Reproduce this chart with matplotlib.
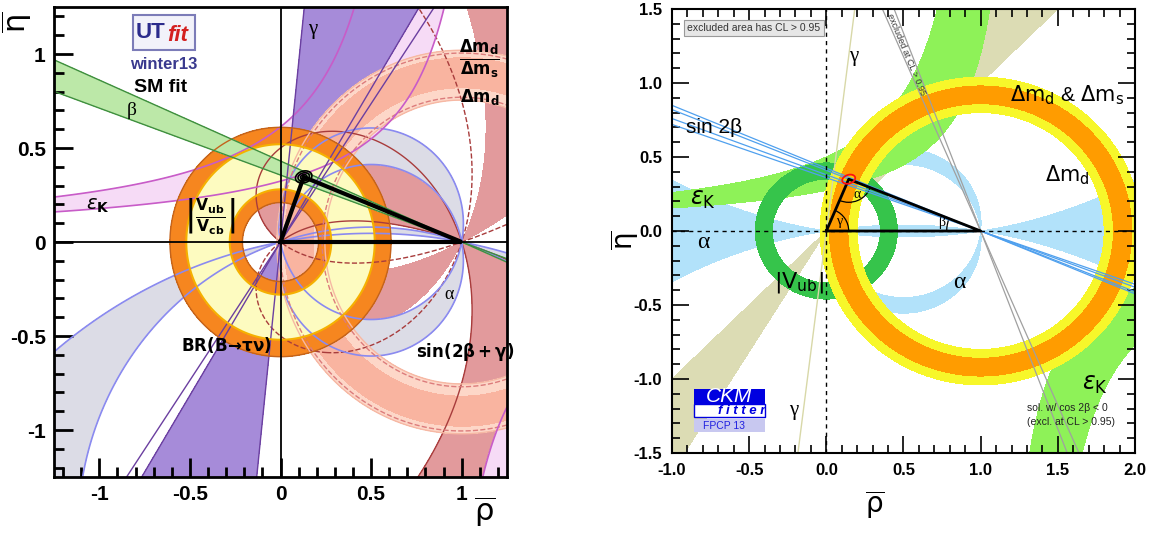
import numpy as np
import matplotlib
matplotlib.use("Agg")
import matplotlib.pyplot as plt
from matplotlib.patches import Rectangle, Arc
from matplotlib.ticker import MultipleLocator

plt.rcParams['font.family'] = ['Liberation Sans', 'DejaVu Sans']
plt.rcParams['mathtext.fontset'] = 'dejavusans'

# ---------------- UTfit (left panel) : constraint ranges ----------------
ut_lim = [-1.25, 1.25]
ut_taunu = [0.21, 0.61]        # BR(B->tau nu), ring around (0,0)
ut_vub = [0.28, 0.52]          # |Vub/Vcb|, ring around (0,0)
ut_dm = [0.755, 1.02]          # Delta m_d, ring around (1,0)
ut_dms = [0.82, 0.98]          # Delta m_d / Delta m_s
ut_dm_dash = [0.77, 1.005]
ut_beta = [19.6, 23.3]         # degrees
ut_gamma = [58.5, 84.0]
ut_gamma_95 = [55.8]
ut_alpha = [79.0, 101.0]
ut_alpha_b = [162.0, 169.5]
ut_s2bg_fill = [-0.8, 0.6]     # sin(2b+g) filled below / above
ut_s2bg_line = [-0.6, 0.6]
ut_epsk = [0.8, 0.49, 1.22, 0.395]   # c1, b2, c2, b1 of eta*(c-rho)=b family
ut_apex = [0.128, 0.346]
ut_apex_sig = [0.02, 0.0135]
ut_apex_lev = [0.07, 0.28, 0.67]
ut_ticks = [-1, -0.5, 0, 0.5, 1]
ut_ticklabels = ['-1', '-0.5', '0', '0.5', '1']

# ---------------- CKMfitter (right panel) ----------------
ck_xlim = [-1.0, 2.0]
ck_ylim = [-1.5, 1.5]
ck_vub = [0.35, 0.46]
ck_dm = [0.80, 1.04]
ck_dms = [0.86, 0.98]
ck_s2b = [19.8, 20.8, 22.3, 23.0]
ck_s2b_excl = [67.0, 69.5]
ck_gamma = [45.0, 58.5]
ck_gamma_95 = [83.0]
ck_alpha = [84.0, 96.0]
ck_alpha_b = [-9.2, 9.2]
ck_epsk = [1.08, 0.541, 1.297, 0.356]
ck_apex = [0.145, 0.35]
ck_apex_sig = [0.03, 0.02]
ck_xticks = [-1.0, -0.5, 0.0, 0.5, 1.0, 1.5, 2.0]
ck_yticks = [-1.5, -1.0, -0.5, 0.0, 0.5, 1.0, 1.5]


def fields(xr, yr, n=900):
    r, e = np.meshgrid(np.linspace(xr[0], xr[1], n), np.linspace(yr[0], yr[1], n))
    b = np.degrees(np.arctan2(e, 1 - r))
    g = np.degrees(np.arctan2(e, r))
    f = {'rb': np.hypot(r, e), 'rt': np.hypot(1 - r, e), 'b': b, 'g': g, 'a': 180 - b - g,
         's2bg': np.sin(np.radians(2 * b + g))}
    return r, e, f


def ang_band(theta, lim):
    # >=0 inside the band lim (degrees, modulo 180)
    mid = 0.5 * (lim[0] + lim[1])
    return np.cos(np.radians(2 * (theta - mid))) - np.cos(np.radians(lim[1] - lim[0]))


def epsk_field(r, e, p):
    c1, b2, c2, b1 = p
    u1 = e * (c1 - r)
    u2 = e * (c2 - r)
    return np.minimum(b2 - np.minimum(u1, u2), np.maximum(u1, u2) - b1)


def apex_field(c, s, tilt=0):
    r, e = np.meshgrid(np.linspace(c[0] - 0.1, c[0] + 0.1, 200), np.linspace(c[1] - 0.08, c[1] + 0.08, 200))
    t = np.radians(tilt)
    u = (r - c[0]) * np.cos(t) + (e - c[1]) * np.sin(t)
    v = -(r - c[0]) * np.sin(t) + (e - c[1]) * np.cos(t)
    return r, e, np.exp(-0.5 * ((u / s[0]) ** 2 + (v / s[1]) ** 2))


fig = plt.figure(figsize=(11.56, 5.35), dpi=100)

# ======================= left : UTfit =======================
ax = fig.add_axes([54 / 1156, 58 / 535, 453 / 1156, 470 / 535])
r, e, f = fields(ut_lim, ut_lim)
ek = epsk_field(r, e, ut_epsk)

ax.contourf(r, e, f['s2bg'], levels=[-2, ut_s2bg_fill[0], ut_s2bg_fill[1], 2],
            colors=['#e29a9c', 'none', '#e29a9c'])
ax.contourf(r, e, ang_band(f['a'], ut_alpha), levels=[0, 3], colors=['#dcdce6'])
ax.contourf(r, e, ang_band(f['a'], ut_alpha_b), levels=[0, 3], colors=['#dcdce6'])
ax.contourf(r, e, ek, levels=[0, 10], colors=['#f6dbf6'])
ax.contourf(r, e, ang_band(f['g'], ut_gamma), levels=[0, 3], colors=['#a68bd9'])
ax.contourf(r, e, f['rt'], levels=ut_dm, colors=['#fdd7c8'])
ax.contourf(r, e, f['rt'], levels=ut_dms, colors=['#f9b4a0'])
ax.contourf(r, e, f['rb'], levels=ut_taunu, colors=['#f6861f'])
ax.contourf(r, e, f['rb'], levels=ut_vub, colors=['#fdfbc0'])
ax.contourf(r, e, ang_band(f['b'], ut_beta), levels=[0, 3], colors=['#bce8a8'])

# contour lines on top
ax.contour(r, e, f['s2bg'], levels=ut_s2bg_line, colors='#a83c3c', linewidths=1)
ax.contour(r, e, ang_band(f['a'], ut_alpha), levels=[0], colors='#8a8af0', linewidths=1.2)
ax.contour(r, e, ang_band(f['a'], ut_alpha_b), levels=[0], colors='#8a8af0', linewidths=1.2)
ax.contour(r, e, f['rt'], levels=ut_dm, colors='#f6b8a4', linewidths=1)
ax.contour(r, e, f['rt'], levels=ut_dm_dash, colors='#dc7c7c', linewidths=1, linestyles='--')
ax.contour(r, e, ek, levels=[0], colors='#c85cc8', linewidths=1.2)
for gl in ut_gamma + ut_gamma_95:
    ax.axline((0, 0), slope=np.tan(np.radians(gl)), color='#6b3fa0', lw=1)
ax.contour(r, e, f['rb'], levels=ut_taunu, colors='#c3631c', linewidths=1)
ax.contour(r, e, f['rb'], levels=ut_vub, colors='#f5b000', linewidths=1.5)
for bl in ut_beta:
    ax.axline((1, 0), slope=-np.tan(np.radians(bl)), color='#3f8f3f', lw=1)

ax.axhline(0, color='k', lw=1.3)
ax.axvline(0, color='k', lw=1.3)
ax.plot([0, ut_apex[0], 1, 0], [0, ut_apex[1], 0, 0], color='k', lw=3, solid_joinstyle='miter')
ar, ae, az = apex_field(ut_apex, ut_apex_sig, 15)
ax.contour(ar, ae, az, levels=ut_apex_lev, colors='k', linewidths=1.2)

ax.set_xlim(ut_lim)
ax.set_ylim(ut_lim)
ax.set_xticks(ut_ticks)
ax.set_yticks(ut_ticks)
ax.set_xticklabels(ut_ticklabels, fontweight='bold', fontsize=15)
ax.set_yticklabels(ut_ticklabels, fontweight='bold', fontsize=15)
ax.xaxis.set_minor_locator(MultipleLocator(0.1))
ax.yaxis.set_minor_locator(MultipleLocator(0.1))
ax.tick_params(which='both', direction='in', width=2, top=False, right=False)
ax.tick_params(which='major', length=14, pad=6)
ax.tick_params(which='minor', length=7)
for sp in ax.spines.values():
    sp.set_linewidth(2)

# logo and labels
ax.add_patch(Rectangle((-0.815, 1.02), 0.345, 0.185, fc='#f2f2fa', ec='#7c7cb8', lw=1.5, zorder=5))
ax.text(-0.8, 1.115, 'UT', color='#2c2c8c', fontsize=16, fontweight='bold', va='center', zorder=6)
ax.text(-0.625, 1.1, 'fit', color='#d42020', fontsize=16, fontweight='bold', style='italic', va='center', zorder=6)
ax.text(-0.645, 0.945, 'winter13', color='#3a3a8e', fontsize=12, fontweight='bold', ha='center', va='center')
ax.text(-0.66, 0.82, 'SM fit', color='k', fontsize=14, fontweight='bold', ha='center', va='center')
ax.text(-0.82, 0.70, 'β', fontsize=14, family='Liberation Serif', ha='center', va='center')
ax.text(-1.01, 0.19, r'$\varepsilon_{\mathbf{K}}$', fontsize=14, ha='center', va='center')
ax.text(0.18, 1.13, 'γ', fontsize=15, family='Liberation Serif', ha='center', va='center')
ax.text(1.1, 0.97, r'$\mathbf{\frac{\Delta m_d}{\Delta m_s}}$', fontsize=17, ha='center', va='center')
ax.text(1.1, 0.77, r'$\mathbf{\Delta m_d}$', fontsize=12, ha='center', va='center')
ax.text(-0.39, 0.14, r'$\left|\frac{\mathbf{V_{ub}}}{\mathbf{V_{cb}}}\right|$', fontsize=16, ha='center', va='center')
ax.text(0.93, -0.28, 'α', fontsize=13, family='Liberation Serif', ha='center', va='center')
ax.text(-0.3, -0.55, r'$\mathbf{BR(B\!\rightarrow\!\tau\nu)}$', fontsize=12, ha='center', va='center')
ax.text(1.02, -0.585, r'$\mathbf{sin(2\beta+\gamma)}$', fontsize=12, ha='center', va='center')

fig.text(17 / 1156, 1 - 22 / 535, r'$\overline{\mathrm{\eta}}$', fontsize=22, rotation=90, ha='center', va='center')
fig.text(485 / 1156, 1 - 512 / 535, r'$\overline{\mathrm{\rho}}$', fontsize=22, ha='center', va='center')

# ======================= right : CKMfitter =======================
ax2 = fig.add_axes([672 / 1156, 82 / 535, 463 / 1156, 444 / 535])
r, e, f = fields(ck_xlim, ck_ylim, 1000)
ek = epsk_field(r, e, ck_epsk)

ax2.contourf(r, e, ang_band(f['g'], ck_gamma), levels=[0, 3], colors=['#dcdcb4'])
ax2.contourf(r, e, ang_band(f['a'], ck_alpha), levels=[0, 3], colors=['#b2e2fa'])
ax2.contourf(r, e, ang_band(f['a'], ck_alpha_b), levels=[0, 3], colors=['#b2e2fa'])
ax2.contourf(r, e, ek, levels=[0, 10], colors=['#8ef258'])
ax2.contourf(r, e, f['rb'], levels=ck_vub, colors=['#36c44b'])
ax2.contourf(r, e, f['rt'], levels=ck_dm, colors=['#f7f72a'])
ax2.contourf(r, e, f['rt'], levels=ck_dms, colors=['#ff9c00'])
for gl in ck_gamma_95:
    ax2.axline((0, 0), slope=np.tan(np.radians(gl)), color='#d8d8a8', lw=1)
for bl in ck_s2b:
    ax2.axline((1, 0), slope=-np.tan(np.radians(bl)), color='#4fa0ee', lw=0.9)
for bl in ck_s2b_excl:
    ax2.axline((1, 0), slope=-np.tan(np.radians(bl)), color='#a0a0a0', lw=0.9)

ax2.axhline(0, color='k', lw=1, ls=(0, (3, 3)))
ax2.axvline(0, color='k', lw=1, ls=(0, (3, 3)))
ax2.plot([0, ck_apex[0], 1, 0], [0, ck_apex[1], 0, 0], color='k', lw=2)
ar, ae, az = apex_field(ck_apex, ck_apex_sig, 20)
ax2.contourf(ar, ae, az, levels=[0.35, 2], colors=['#ffc800'])
ax2.contour(ar, ae, az, levels=[0.35], colors='#ff1010', linewidths=1.3)

g_apex = np.degrees(np.arctan2(ck_apex[1], ck_apex[0]))
b_apex = np.degrees(np.arctan2(ck_apex[1], 1 - ck_apex[0]))
k = 154 / 148
ax2.add_patch(Arc((0, 0), 0.29, 0.29 * k, theta1=0, theta2=g_apex, color='k', lw=0.9))
ax2.add_patch(Arc((1, 0), 0.44, 0.44 * k, theta1=180 - b_apex, theta2=180, color='k', lw=0.9))
ax2.add_patch(Arc((ck_apex[0], ck_apex[1]), 0.3, 0.3 * k, theta1=180 + g_apex, theta2=360 - b_apex, color='k', lw=0.9))
ax2.text(0.09, 0.065, 'γ', fontsize=10, family='Liberation Serif', ha='center', va='center')
ax2.text(0.2, 0.25, 'α', fontsize=10, family='Liberation Serif', ha='center', va='center')
ax2.text(0.75, 0.055, 'β', fontsize=10, family='Liberation Serif', ha='center', va='center')

ax2.set_xlim(ck_xlim)
ax2.set_ylim(ck_ylim)
ax2.set_xticks(ck_xticks)
ax2.set_yticks(ck_yticks)
ax2.set_xticklabels(['%.1f' % t for t in ck_xticks], fontweight='bold', fontsize=12)
ax2.set_yticklabels(['%.1f' % t for t in ck_yticks], fontweight='bold', fontsize=12)
ax2.xaxis.set_minor_locator(MultipleLocator(0.1))
ax2.yaxis.set_minor_locator(MultipleLocator(0.1))
ax2.tick_params(which='both', direction='in', top=True, right=True, width=1.2)
ax2.tick_params(which='major', length=12, pad=7)
ax2.tick_params(which='minor', length=6)
for sp in ax2.spines.values():
    sp.set_linewidth(1.5)

ax2.text(-0.9, 1.37, 'excluded area has CL > 0.95', fontsize=7.5, va='center', color='#333333',
         bbox=dict(boxstyle='square,pad=0.3', fc='#e6e6e6', ec='#999999', lw=0.8))
ax2.text(0.52, 1.19, 'excluded at CL > 0.95', fontsize=6.5, rotation=-68.2, transform_rotates_text=True,
         ha='center', va='center', color='#333333')
ax2.text(1.3, -1.24, 'sol. w/ cos 2β < 0\n(excl. at CL > 0.95)', fontsize=7.5, va='center', color='#222222',
         linespacing=1.5)
ax2.text(0.18, 1.18, 'γ', fontsize=15, family='Liberation Serif', ha='center', va='center')
ax2.text(-0.73, 0.70, 'sin 2β', fontsize=15, ha='center', va='center')
ax2.text(-0.8, 0.21, r'$\varepsilon_{\rm K}$', fontsize=17, ha='center', va='center')
ax2.text(-0.8, -0.08, 'α', fontsize=17, family='Liberation Serif', ha='center', va='center')
ax2.text(-0.18, -0.345, r'$|\mathrm{V_{ub}}|$', fontsize=16, ha='center', va='center')
ax2.text(1.56, 0.92, r'$\Delta\mathrm{m_d}$ & $\Delta\mathrm{m_s}$', fontsize=15, ha='center', va='center')
ax2.text(1.56, 0.38, r'$\Delta\mathrm{m_d}$', fontsize=15, ha='center', va='center')
ax2.text(0.86, -0.35, 'α', fontsize=17, family='Liberation Serif', ha='center', va='center')
ax2.text(1.74, -1.04, r'$\varepsilon_{\rm K}$', fontsize=17, ha='center', va='center')
ax2.text(-0.21, -1.21, 'γ', fontsize=15, family='Liberation Serif', ha='center', va='center')

# CKMfitter logo
ax2.add_patch(Rectangle((-0.86, -1.17), 0.46, 0.1, fc='#0000e0', ec='none', zorder=5))
ax2.add_patch(Rectangle((-0.86, -1.26), 0.46, 0.09, fc='white', ec='#0000e0', lw=1, zorder=5))
ax2.add_patch(Rectangle((-0.86, -1.36), 0.46, 0.09, fc='#c8c8f0', ec='none', zorder=5))
ax2.text(-0.63, -1.118, 'CKM', color='white', fontsize=15, style='italic', ha='center', va='center', zorder=6)
ax2.text(-0.55, -1.215, 'f i t t e r', color='#0000e0', fontsize=9.5, fontweight='bold', style='italic',
         ha='center', va='center', zorder=6)
ax2.text(-0.66, -1.315, 'FPCP 13', color='#2020e0', fontsize=7.5, ha='center', va='center', zorder=6)

fig.text(625 / 1156, 1 - 240 / 535, r'$\overline{\mathrm{\eta}}$', fontsize=20, rotation=90, ha='center', va='center')
fig.text(875 / 1156, 1 - 505 / 535, r'$\overline{\mathrm{\rho}}$', fontsize=20, ha='center', va='center')

fig.savefig('out.png', dpi=100)
